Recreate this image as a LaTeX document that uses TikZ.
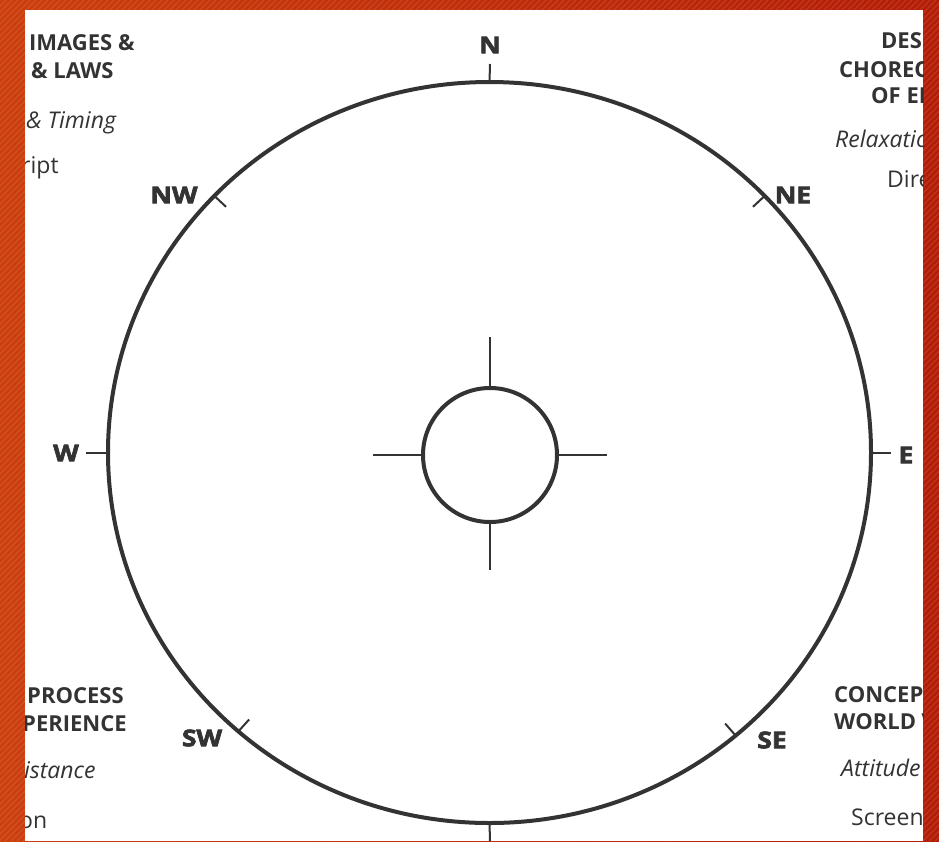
\documentclass[tikz,border=0pt]{standalone}
\usepackage{fontspec}
\setmainfont{Open Sans}
\newfontfamily\dirfont[FakeStretch=1.15,BoldFeatures={FakeBold=3}]{Open Sans}
\usetikzlibrary{shapes.geometric,calc}
\definecolor{ink}{HTML}{333333}
\definecolor{frameL}{RGB}{204,62,12}
\definecolor{frameR}{RGB}{180,28,6}
\tikzset{
  headtext/.style={anchor=base west,inner sep=0pt,text=ink,font=\fontsize{22}{22}\selectfont\bfseries},
  itext/.style={anchor=base west,inner sep=0pt,text=ink,font=\fontsize{23}{23}\selectfont\itshape},
  bodytext/.style={anchor=base west,inner sep=0pt,text=ink,font=\fontsize{23}{23}\selectfont},
  dirlabel/.style={inner sep=0pt,text=ink,font=\fontsize{23}{23}\dirfont\bfseries},
  tickline/.style={draw=ink,line width=2pt},
  spoke/.style={draw=ink,line width=2.2pt},
  ring/.style={draw=ink,line width=4pt,inner sep=0pt,outer sep=0pt}
}
\begin{document}
\begin{tikzpicture}[x=1pt,y=-1pt]
\useasboundingbox (0,0) rectangle (939,841);
% frame background
\shade[left color=frameL,right color=frameR] (0,0) rectangle (939,841);
\begin{scope}
  \clip (0,0) rectangle (939,841);
  \foreach \i in {0,6,...,1800}{
    \draw[white,opacity=0.10,line width=1.4pt] (\i-841,841) -- (\i,0);
  }
\end{scope}
\fill[white] (25,10) rectangle (923,841);

% circles
\node[ring,ellipse,minimum width=763,minimum height=741] (outer) at (489.5,452.5) {};
\node[ring,circle,minimum size=134] (inner) at (490,455) {};

% spokes
\coordinate (sN) at (490,337);
\coordinate (sS) at (490,570);
\coordinate (sW) at (373,455);
\coordinate (sE) at (607,455);
\draw[spoke] (inner.north) -- (sN);
\draw[spoke] (inner.south) -- (sS);
\draw[spoke] (inner.west) -- (sW);
\draw[spoke] (inner.east) -- (sE);

% ticks
\coordinate (tN) at (490,64);
\coordinate (tS) at (490,841);
\coordinate (tW) at (86,452.5);
\coordinate (tE) at (891,452.5);
\draw[tickline] (outer.north) -- (tN);
\draw[tickline] (outer.south) -- (tS);
\draw[tickline] (outer.west) -- (tW);
\draw[tickline] (outer.east) -- (tE);
\draw[tickline] (outer.137) -- ($(outer.137)!16pt!(outer.center)$);
\draw[tickline] (outer.43) -- ($(outer.43)!16pt!(outer.center)$);
\draw[tickline] (outer.228.5) -- ($(outer.228.5)!16pt!(outer.center)$);
\draw[tickline] (outer.311.5) -- ($(outer.311.5)!16pt!(outer.center)$);

% direction labels
\node[dirlabel] (lN) at (490,45) {N};
\node[dirlabel] (lNW) at (174,195) {NW};
\node[dirlabel] (lNE) at (793,195) {NE};
\node[dirlabel] (lW) at (66,453) {W};
\node[dirlabel] (lE) at (906,455) {E};
\node[dirlabel] (lSW) at (202,738) {SW};
\node[dirlabel] (lSE) at (772,740) {SE};

% side texts (clipped by the white panel)
\begin{scope}
  \clip (25,10) rectangle (923,841);
  \node[headtext] (t1) at (29,50) {IMAGES \&};
  \node[headtext] (t2) at (31,78) {\& LAWS};
  \node[itext] (t3) at (26,128) {\& Timing};
  \node[bodytext] (t4) at (21,173) {ript};
  \node[headtext] (t5) at (27,703) {PROCESS};
  \node[headtext] (t6) at (22,731) {PERIENCE};
  \node[itext] (t7) at (24,778) {istance};
  \node[bodytext] (t8) at (19,828) {on};
  \node[headtext] (r1) at (881,48) {DES};
  \node[headtext] (r2) at (839,77) {CHOREO};
  \node[headtext] (r3) at (871,103) {OF EN};
  \node[itext] (r4) at (835,147) {Relaxatio};
  \node[bodytext] (r5) at (887,187) {Dire};
  \node[headtext] (r6) at (834,702) {CONCEP};
  \node[headtext] (r7) at (834,729) {WORLD V};
  \node[itext] (r8) at (841,776) {Attitude};
  \node[bodytext] (r9) at (851,825) {Screen};
\end{scope}
\end{tikzpicture}
\end{document}
